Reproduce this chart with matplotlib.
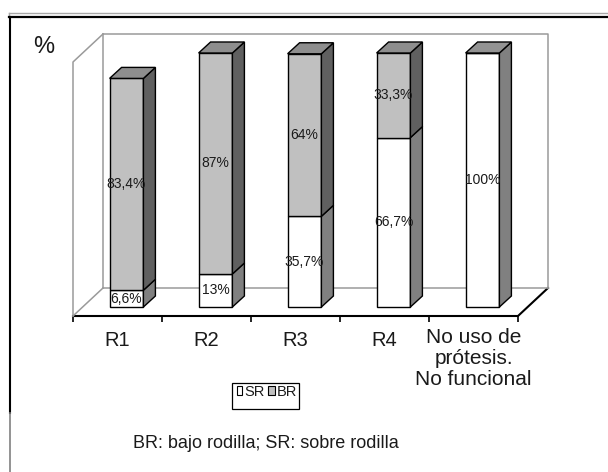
import matplotlib
matplotlib.use('Agg')
import matplotlib.pyplot as plt
from matplotlib.patches import Polygon, Rectangle
from matplotlib.lines import Line2D
from matplotlib import font_manager

# ---------------- data ----------------
categories = ['R1', 'R2', 'R3', 'R4', 'No uso de\nprótesis.\nNo funcional']
sr_values = [6.6, 13, 35.7, 66.7, 100]
br_values = [83.4, 87, 64, 33.3, 0]
sr_labels = ['6,6%', '13%', '35,7%', '66,7%', '100%']
br_labels = ['83,4%', '87%', '64%', '33,3%', '']
series_names = ['SR', 'BR']
y_label = '%'
note = 'BR: bajo rodilla; SR: sobre rodilla'

# ---------------- style ----------------
names = {f.name for f in font_manager.fontManager.ttflist}
BASE = 'Liberation Sans' if 'Liberation Sans' in names else 'DejaVu Sans'
NARROW = 'Liberation Sans Narrow' if 'Liberation Sans Narrow' in names else BASE
plt.rcParams['font.family'] = [BASE, 'DejaVu Sans']

W, H = 608, 472
fig = plt.figure(figsize=(W / 100, H / 100), dpi=100)
fig.patch.set_facecolor('white')

# front plane of the 3D box in pixels
X0, X1, Y0, Y100 = 73, 518, 316, 62
ncat = len(categories)
ax = fig.add_axes([X0 / W, (H - Y0) / H, (X1 - X0) / W, (Y0 - Y100) / H])
ax.set_xlim(-0.5, ncat - 0.5)
ax.set_ylim(0, 100)
ax.patch.set_alpha(0)
for s in ax.spines.values():
    s.set_visible(False)

pxc = (X1 - X0) / ncat       # pixels per category
pxp = (Y0 - Y100) / 100.0    # pixels per percent
dx = lambda p: p / pxc
dy = lambda p: p / pxp

WX, WY = dx(30), dy(28)      # wall depth
BX, BY = dx(9), dy(9)        # bar front offset
DX, DY = dx(12), dy(11)      # bar depth
BW = 0.38

wall_c = '#9a9a9a'
lw_wall = 1.1
xl, xr = -0.5, ncat - 0.5
# back wall
ax.add_line(Line2D([xl + WX, xr + WX, xr + WX], [100 + WY, 100 + WY, WY],
                   color=wall_c, lw=lw_wall, clip_on=False))
ax.add_line(Line2D([xl + WX, xl + WX], [WY, 100 + WY], color=wall_c, lw=lw_wall, clip_on=False))
ax.add_line(Line2D([xl + WX, xr + WX], [WY, WY], color=wall_c, lw=lw_wall, clip_on=False))
# side wall
ax.add_line(Line2D([xl, xl, xl + WX], [0, 100, 100 + WY], color=wall_c, lw=lw_wall, clip_on=False))
ax.add_line(Line2D([xl, xl + WX], [0, WY], color=wall_c, lw=lw_wall, clip_on=False))
# floor front and right edges
ax.add_line(Line2D([xl, xr, xr + WX], [0, 0, WY], color='black', lw=1.5, clip_on=False, zorder=1))

# ticks
ax.set_xticks([i - 0.5 for i in range(ncat + 1)])
ax.set_xticklabels([])
ax.tick_params(axis='x', length=4, width=1.2, color='black', direction='out')
ax.set_yticks([])

front_c = {'SR': 'white', 'BR': '#c0c0c0'}
top_c = {'SR': '#939393', 'BR': '#8e8e8e'}
side_c = {'SR': '#808080', 'BR': '#606060'}
ek = dict(edgecolor='black', linewidth=1.0)

x = list(range(ncat))
# front faces through bar()
ax.bar([i + BX for i in x], sr_values, width=BW, bottom=BY, color=front_c['SR'], zorder=3, clip_on=False, **ek)
ax.bar([i + BX for i in x], br_values, width=BW, bottom=[BY + v for v in sr_values],
       color=front_c['BR'], zorder=3, clip_on=False, **ek)

for i in x:
    xr_ = i + BX + BW / 2
    xl_ = i + BX - BW / 2
    b = BY
    top_series = None
    for name, vals, labs in (('SR', sr_values, sr_labels), ('BR', br_values, br_labels)):
        v = vals[i]
        if v <= 0:
            continue
        t = b + v
        ax.add_patch(Polygon([(xr_, b), (xr_ + DX, b + DY), (xr_ + DX, t + DY), (xr_, t)],
                             closed=True, facecolor=side_c[name], zorder=3, clip_on=False, **ek))
        ax.text(i + BX, (b + t) / 2, labs[i], ha='center', va='center', fontsize=10,
                family=[NARROW, 'DejaVu Sans'], color='#1a1a1a', zorder=5)
        top_series = name
        b = t
    ax.add_patch(Polygon([(xl_, b), (xr_, b), (xr_ + DX, b + DY), (xl_ + DX, b + DY)],
                         closed=True, facecolor=top_c[top_series], zorder=3, clip_on=False, **ek))

# category labels
for i, c in enumerate(categories):
    if '\n' in c:
        ax.text(i, dy(-42.5), c, ha='center', va='center', fontsize=15, linespacing=1.15,
                color='#1a1a1a', clip_on=False)
    else:
        ax.text(i, dy(-24), c, ha='center', va='center', fontsize=14.5, color='#1a1a1a', clip_on=False)

# ---------------- overlay: frame, legend, notes ----------------
ov = fig.add_axes([0, 0, 1, 1], zorder=-1)
ov.set_xlim(0, W)
ov.set_ylim(H, 0)
ov.axis('off')
ov.add_line(Line2D([9, W], [13, 13], color='#a8a8a8', lw=1.0))
ov.add_line(Line2D([9, 9], [13, 17], color='#a8a8a8', lw=1.0))
ov.add_line(Line2D([9, W], [16.5, 16.5], color='black', lw=1.6))
ov.add_line(Line2D([9.5, 9.5], [16.5, 413], color='black', lw=1.5))
ov.add_line(Line2D([9.5, 9.5], [413, H], color='#808080', lw=1.2))

ov.text(44, 47, y_label, ha='center', va='center', fontsize=17, color='#1a1a1a')

# legend
ov.add_patch(Rectangle((232, 383), 67, 26, facecolor='white', edgecolor='black', lw=0.9))
ov.add_patch(Rectangle((237, 386), 4.5, 8.5, facecolor=front_c['SR'], edgecolor='black', lw=0.8))
ov.text(244, 392, series_names[0], ha='left', va='center', fontsize=10.5,
        family=[NARROW, 'DejaVu Sans'], color='#1a1a1a')
ov.add_patch(Rectangle((268, 386), 7, 8.5, facecolor=front_c['BR'], edgecolor='black', lw=0.8))
ov.text(277, 392, series_names[1], ha='left', va='center', fontsize=10.5,
        family=[NARROW, 'DejaVu Sans'], color='#1a1a1a')

ov.text(266, 443, note, ha='center', va='center', fontsize=13, color='#1a1a1a')

fig.savefig('out.png', dpi=100, facecolor='white')
